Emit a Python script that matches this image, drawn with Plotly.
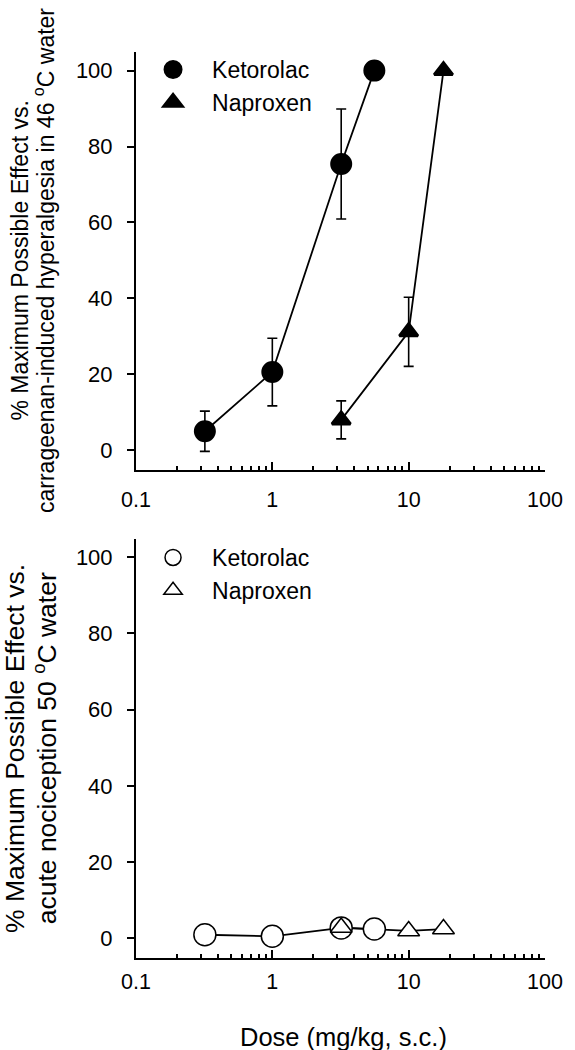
import plotly.graph_objects as go

FONT = "Liberation Sans, Arial, Helvetica, sans-serif"

# ---------------- data ----------------
dose_keto = [0.32, 1.0, 3.2, 5.6]          # mg/kg, s.c.
dose_napr = [3.2, 10.0, 18.0]

# top panel: carrageenan-induced hyperalgesia, 46 C water
mpe_keto_hyper = [5.0, 20.6, 75.4, 100.0]
sem_keto_hyper = [5.3, 8.9, 14.5, 0.0]
mpe_napr_hyper = [8.0, 31.2, 100.0]
sem_napr_hyper = [5.0, 9.1, 0.0]

# bottom panel: acute nociception, 50 C water
mpe_keto_acute = [0.9, 0.5, 2.7, 2.4]
mpe_napr_acute = [2.8, 1.9, 2.4]

series_names = ["Ketorolac", "Naproxen"]
x_tickvals = [0.1, 1, 10, 100]
x_ticktext = ["0.1", "1", "10", "100"]
x_minor_tickvals = [m * d for d in (0.1, 1, 10) for m in range(2, 10)]
y_tickvals = [0, 20, 40, 60, 80, 100]

# ---------------- layout geometry ----------------
ML, MR, MT, MB = 136, 21, 52, 92
W, H = 575, 1050
PW = W - ML - MR
PH = H - MT - MB
TOP_DOM = [(958 - 470) / PH, 1.0]
BOT_DOM = [0.0, (958 - 538.6) / PH]
YRANGE = [-5.2, 104.9]

fig = go.Figure()

def lines(x, y, xa, ya):
    fig.add_trace(go.Scatter(x=x, y=y, mode="lines", xaxis=xa, yaxis=ya,
                             line=dict(color="black", width=1.8),
                             showlegend=False, hoverinfo="skip"))

def markers(x, y, err, xa, ya, name, symbol, filled, legend):
    kw = {}
    if err is not None:
        kw["error_y"] = dict(type="data", array=err, visible=True,
                             color="black", thickness=1.6, width=5)
    if filled:
        size = 19 if symbol == "circle" else 16
        mline = dict(color="black", width=3)
        color = "black"
    else:
        size = 22 if symbol == "circle" else 19
        mline = dict(color="black", width=1.5)
        color = "white"
    fig.add_trace(go.Scatter(
        x=x, y=y, mode="markers", xaxis=xa, yaxis=ya, name=name,
        legend=legend,
        marker=dict(symbol=symbol, size=size, color=color, line=mline),
        **kw))

# top panel
lines(dose_keto, mpe_keto_hyper, "x", "y")
lines(dose_napr, mpe_napr_hyper, "x", "y")
markers(dose_keto, mpe_keto_hyper, sem_keto_hyper, "x", "y",
        series_names[0], "circle", True, "legend")
markers(dose_napr, mpe_napr_hyper, sem_napr_hyper, "x", "y",
        series_names[1], "triangle-up", True, "legend")

# bottom panel
lines(dose_keto, mpe_keto_acute, "x2", "y2")
lines(dose_napr, mpe_napr_acute, "x2", "y2")
markers(dose_keto, mpe_keto_acute, None, "x2", "y2",
        series_names[0], "circle", False, "legend2")
markers(dose_napr, mpe_napr_acute, None, "x2", "y2",
        series_names[1], "triangle-up", False, "legend2")

def xaxis(anchor, standoff):
    return dict(type="log", range=[-1, 2], domain=[0, 1], anchor=anchor,
                showline=True, linewidth=2, linecolor="black", mirror=False,
                showgrid=False, zeroline=False,
                ticks="inside", ticklen=8, tickwidth=2, tickcolor="black",
                tickmode="array", tickvals=x_tickvals, ticktext=x_ticktext,
                tickfont=dict(family=FONT, size=21.5, color="black"),
                ticklabelstandoff=standoff,
                minor=dict(ticks="inside", ticklen=4, tickwidth=1.5,
                           tickcolor="black", tickmode="array",
                           tickvals=x_minor_tickvals, showgrid=False))

def yaxis(anchor, dom):
    return dict(range=YRANGE, domain=dom, anchor=anchor,
                showline=True, linewidth=2, linecolor="black",
                showgrid=False, zeroline=False,
                ticks="outside", ticklen=7, tickwidth=2, tickcolor="black",
                tickmode="array", tickvals=y_tickvals,
                tickfont=dict(family=FONT, size=22, color="black"),
                ticklabelstandoff=10)

def yover(over, anchor):
    return dict(range=YRANGE, overlaying=over, anchor=anchor,
                showline=False, showgrid=False, zeroline=False,
                ticks="inside", ticklen=7, tickwidth=2, tickcolor="black",
                tickmode="array", tickvals=y_tickvals, showticklabels=False)

def legend(ytop_px):
    return dict(x=(134 - ML) / PW, xanchor="left",
                y=1 - (ytop_px - MT) / PH, yanchor="top",
                font=dict(family=FONT, size=23, color="black"),
                bgcolor="rgba(0,0,0,0)", borderwidth=0,
                itemwidth=68, tracegroupgap=0, itemclick=False)

fig.update_layout(
    width=W, height=H, autosize=False,
    margin=dict(l=ML, r=MR, t=MT, b=MB, pad=0),
    paper_bgcolor="white", plot_bgcolor="white",
    font=dict(family=FONT, color="black"),
    xaxis=xaxis("y", 9), yaxis=yaxis("x", TOP_DOM),
    xaxis2=xaxis("y2", 3), yaxis2=yaxis("x2", BOT_DOM),
    yaxis3=yover("y", "x"), yaxis4=yover("y2", "x2"),
    legend=legend(48), legend2=legend(536),
    showlegend=True,
)

def xd(px):
    return (px - ML) / PW

ann = [
    # top panel y title (two lines)
    dict(text="% Maximum Possible Effect vs.", x=xd(17), y=0.5,
         xref="x domain", yref="y domain", textangle=-90, size=23),
    dict(text="carrageenan-induced hyperalgesia in 46 <sup>o</sup>C water",
         x=xd(42), y=0.5, xref="x domain", yref="y domain", textangle=-90, size=23),
    # bottom panel y title
    dict(text="% Maximum Possible Effect vs.", x=xd(13), y=0.5,
         xref="x2 domain", yref="y2 domain", textangle=-90, size=26.5),
    dict(text="acute nociception 50 <sup>o</sup>C water",
         x=xd(43), y=0.5, xref="x2 domain", yref="y2 domain", textangle=-90, size=26.5),
    # x title
    dict(text="Dose (mg/kg, s.c.)", x=xd(348), y=(958 - 1036.5) / PH,
         xref="x2 domain", yref="paper", textangle=0, size=25.5),
]
for a in ann:
    fig.add_annotation(text=a["text"], x=a["x"], y=a["y"], xref=a["xref"],
                       yref=a["yref"], textangle=a["textangle"],
                       xanchor="center", yanchor="middle", showarrow=False,
                       font=dict(family=FONT, size=a["size"], color="black"))

fig.write_html("out.html",
               config={"displayModeBar": False},
               post_script="document.body.style.margin='0';"
                           "document.body.style.overflow='hidden';")
